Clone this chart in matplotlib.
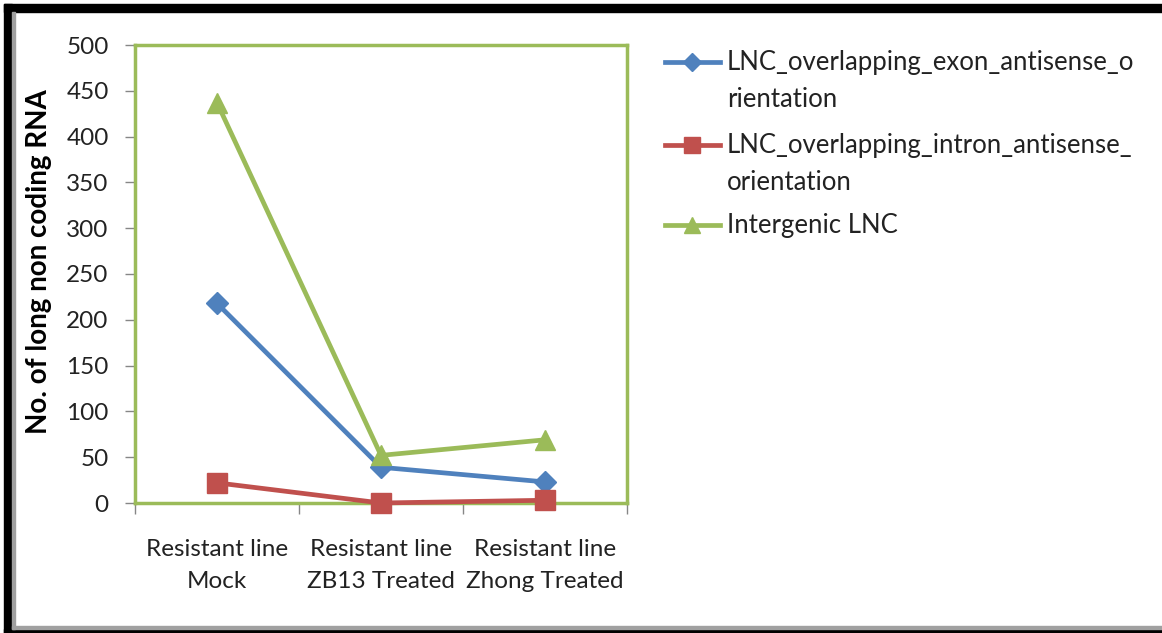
import matplotlib.pyplot as plt
from matplotlib.lines import Line2D
from matplotlib.patches import Rectangle

categories = ["Resistant line\nMock", "Resistant line\nZB13 Treated", "Resistant line\nZhong Treated"]
exon_antisense = [218, 39, 23]
intron_antisense = [22, 0, 3]
intergenic = [437, 52, 69]
series_names = ["LNC_overlapping_exon_antisense_o\nrientation",
                "LNC_overlapping_intron_antisense_\norientation",
                "Intergenic LNC"]
yticks = [0, 50, 100, 150, 200, 250, 300, 350, 400, 450, 500]

plt.rcParams['font.family'] = ['Lato', 'DejaVu Sans']

W, H = 1162, 633
fig = plt.figure(figsize=(W / 100, H / 100), dpi=100)
ax = fig.add_axes([135 / W, 1 - 503 / H, 492 / W, 458 / H])

styles = [('#4F81BD', 'D', 11), ('#C0504D', 's', 15), ('#9BBB59', '^', 15)]
x = range(len(categories))
for vals, (col, mk, ms) in zip([exon_antisense, intron_antisense, intergenic], styles):
    ax.plot(x, vals, '-', marker=mk, color=col, lw=3.4, ms=ms, clip_on=False, zorder=3)

ax.set_xlim(-0.5, 2.5)
ax.set_ylim(0, 500)
ax.set_yticks(yticks)
ax.set_xticks(list(x))
ax.set_xticklabels(categories, fontsize=17.5)
ax.set_xticks([-0.5, 0.5, 1.5, 2.5], minor=True)
ax.tick_params(axis='x', which='major', length=0, pad=26)
ax.tick_params(axis='x', which='minor', length=8, color='#868686', width=1)
ax.tick_params(axis='y', length=7, color='#868686', width=1, labelsize=17.5, pad=12, labelcolor='#222222')
for s in ax.spines.values():
    s.set_color('#9BBB59')
    s.set_linewidth(2.5)
for t in ax.get_xticklabels():
    t.set_linespacing(1.65)
    t.set_color('#222222')

ax.set_ylabel("No. of long non coding RNA", fontsize=20, fontweight='bold')
ax.yaxis.set_label_coords(-0.168, 0.528)

# legend keys sit level with the first line of each label
key_rows = [62, 145, 225]
for name, (col, mk, ms), yp in zip(series_names, styles, key_rows):
    yf = 1 - yp / H
    fig.add_artist(Line2D([665 / W, 720 / W], [yf, yf], transform=fig.transFigure, color=col, lw=3.4))
    fig.add_artist(Line2D([692 / W], [yf], transform=fig.transFigure, color=col, marker=mk, ms=ms * 0.8))
    fig.text(727 / W, 1 - (yp - 12) / H, name, fontsize=18.5, color='#222222', va='top', ha='left',
             linespacing=1.62)

# outer frame: black bands on top, left and bottom with a grey inner edge
fig.patches.append(Rectangle((4 / W, 1 - 12 / H), 1, 8 / H, transform=fig.transFigure, color='black'))
fig.patches.append(Rectangle((4 / W, 0), 8 / W, 1 - 4 / H, transform=fig.transFigure, color='black'))
fig.patches.append(Rectangle((4 / W, 0), 1, 4 / H, transform=fig.transFigure, color='black'))
fig.patches.append(Rectangle((12 / W, 4 / H), 3 / W, 1 - 16 / H, transform=fig.transFigure, color='#a0a0a0'))
fig.patches.append(Rectangle((12 / W, 4 / H), 1, 3 / H, transform=fig.transFigure, color='#a0a0a0'))

fig.savefig("out.png", dpi=100)
